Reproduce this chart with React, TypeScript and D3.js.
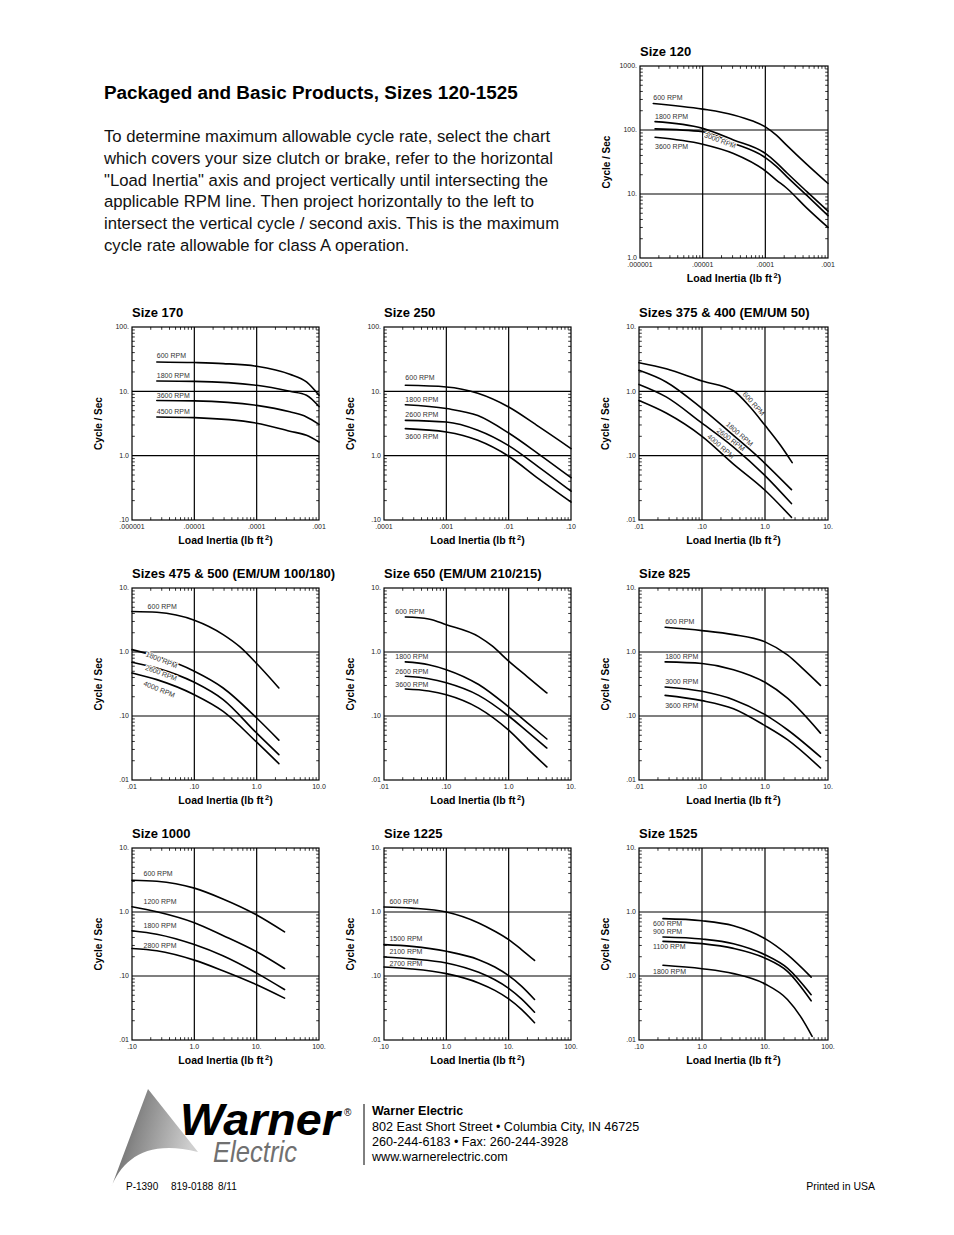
import React from 'react';
import * as d3 from 'd3';

type P = [number, number];

// ---------------- DATA (x = load inertia lb ft², y = cycles / sec) ----------------
const s120_600: P[] = [[1.63e-6, 260], [1e-5, 212], [3.1e-5, 172], [6.3e-5, 138], [1e-4, 112], [1.5e-4, 83], [2.2e-4, 57.5], [4.6e-4, 29], [1e-3, 14.6]];
const s120_1800: P[] = [[1.74e-6, 135], [1e-5, 106], [3.1e-5, 70], [1e-4, 43], [1.5e-4, 31], [2.2e-4, 21.5], [4.6e-4, 10.9], [1e-3, 5.4]];
const s120_3000: P[] = [[1.74e-6, 104], [1e-5, 94], [3.1e-5, 62], [1e-4, 37], [1.5e-4, 27], [2.2e-4, 18.7], [4.6e-4, 9.5], [1e-3, 4.6]];
const s120_3600: P[] = [[1.74e-6, 77], [1e-5, 60], [3.1e-5, 43], [1e-4, 23], [1.5e-4, 16.5], [2.2e-4, 12.3], [4.6e-4, 6.0], [1e-3, 3.0]];

const s170_600: P[] = [[2.5e-6, 28.6], [1e-5, 28], [2.9e-5, 27], [1e-4, 24.5], [3.4e-4, 18.4], [6.3e-4, 14], [1e-3, 8.7]];
const s170_1800: P[] = [[2.5e-6, 14.5], [1e-5, 14.3], [1e-4, 12.4], [3.4e-4, 10], [6.3e-4, 8.7], [1e-3, 5.8]];
const s170_3600: P[] = [[2.5e-6, 7.2], [1e-5, 7.1], [1e-4, 6.05], [3.4e-4, 4.8], [6.3e-4, 4.0], [1e-3, 3.07]];
const s170_4500: P[] = [[2.5e-6, 4.0], [1e-5, 3.9], [1e-4, 3.2], [3.4e-4, 2.4], [6.3e-4, 2.07], [1e-3, 1.63]];

const s250_600: P[] = [[2.2e-4, 12.4], [1e-3, 11.7], [3.2e-3, 9.3], [0.01, 5.7], [0.03, 2.85], [0.1, 1.29]];
const s250_1800: P[] = [[2.2e-4, 6.2], [1e-3, 5.4], [3.2e-3, 4.2], [0.01, 2.25], [0.03, 1.07], [0.1, 0.455]];
const s250_2600: P[] = [[2.2e-4, 3.54], [1e-3, 3.33], [3.2e-3, 2.48], [0.01, 1.43], [0.03, 0.67], [0.1, 0.28]];
const s250_3600: P[] = [[2.2e-4, 2.63], [1e-3, 2.33], [3.2e-3, 1.73], [0.01, 0.98], [0.03, 0.44], [0.1, 0.19]];

const s375_600: P[] = [[0.01, 2.79], [0.027, 2.25], [0.1, 1.45], [0.316, 1.02], [0.58, 0.57], [1, 0.296], [1.76, 0.145], [2.7, 0.078]];
const s375_1800: P[] = [[0.01, 2.12], [0.027, 1.4], [0.1, 0.54], [0.316, 0.207], [0.74, 0.1], [2.63, 0.0296]];
const s375_2600: P[] = [[0.01, 1.28], [0.027, 0.82], [0.1, 0.32], [0.316, 0.136], [1, 0.049], [2.63, 0.018]];
const s375_4000: P[] = [[0.01, 0.72], [0.027, 0.46], [0.1, 0.2], [0.316, 0.074], [1, 0.029], [2.63, 0.011]];

const s475_600: P[] = [[0.01, 4.3], [0.025, 4.17], [0.1, 3.13], [0.29, 1.87], [0.54, 1.2], [1, 0.66], [2.27, 0.274]];
const s475_1800: P[] = [[0.01, 1.09], [0.025, 0.855], [0.1, 0.5], [0.29, 0.274], [1, 0.093], [2.27, 0.042]];
const s475_2600: P[] = [[0.01, 0.69], [0.025, 0.56], [0.1, 0.336], [0.29, 0.18], [1, 0.054], [2.27, 0.0249]];
const s475_4000: P[] = [[0.01, 0.47], [0.025, 0.37], [0.1, 0.215], [0.29, 0.118], [1, 0.039], [2.27, 0.018]];

const s650_600: P[] = [[0.022, 3.52], [0.052, 3.28], [0.1, 2.67], [0.33, 1.74], [0.55, 1.23], [1, 0.72], [2.0, 0.41], [4.1, 0.229]];
const s650_1800: P[] = [[0.022, 0.7], [0.052, 0.634], [0.1, 0.53], [0.33, 0.31], [1, 0.138], [2.0, 0.078], [4.1, 0.0437]];
const s650_2600: P[] = [[0.022, 0.417], [0.052, 0.383], [0.1, 0.33], [0.33, 0.21], [1, 0.1], [2.0, 0.057], [4.1, 0.0316]];
const s650_3600: P[] = [[0.022, 0.264], [0.052, 0.246], [0.1, 0.215], [0.33, 0.133], [1, 0.06], [2.0, 0.031], [4.1, 0.016]];

const s825_600: P[] = [[0.026, 2.43], [0.1, 2.16], [0.316, 1.87], [1, 1.44], [2.27, 0.9], [4.14, 0.53], [7.6, 0.3]];
const s825_1800: P[] = [[0.026, 0.7], [0.1, 0.66], [0.316, 0.53], [1, 0.336], [2.27, 0.19], [7.6, 0.054]];
const s825_3000: P[] = [[0.026, 0.284], [0.1, 0.243], [0.316, 0.18], [1, 0.105], [2.27, 0.061], [7.6, 0.0229]];
const s825_3600: P[] = [[0.026, 0.21], [0.1, 0.174], [0.316, 0.13], [1, 0.0707], [2.27, 0.0427], [7.6, 0.0154]];

const s1000_600: P[] = [[0.1, 3.14], [0.25, 3.03], [1, 2.36], [2.87, 1.6], [10, 0.9], [28, 0.49]];
const s1000_1200: P[] = [[0.1, 1.21], [0.25, 1.01], [1, 0.68], [2.87, 0.43], [10, 0.239], [28, 0.131]];
const s1000_1800: P[] = [[0.1, 0.51], [0.25, 0.45], [1, 0.31], [2.87, 0.207], [10, 0.111], [28, 0.0614]];
const s1000_2800: P[] = [[0.1, 0.269], [0.25, 0.248], [1, 0.177], [2.87, 0.121], [10, 0.073], [28, 0.045]];

const s1225_600: P[] = [[0.1, 1.2], [0.28, 1.15], [1, 1.0], [3.3, 0.675], [6, 0.5], [10, 0.37], [16.2, 0.257], [26, 0.175]];
const s1225_1500: P[] = [[0.1, 0.309], [0.28, 0.29], [1, 0.243], [3.3, 0.18], [6, 0.138], [10, 0.101], [16.2, 0.069], [26, 0.043]];
const s1225_2100: P[] = [[0.1, 0.198], [0.28, 0.185], [1, 0.16], [3.3, 0.114], [6, 0.0873], [10, 0.0643], [16.2, 0.0436], [26, 0.0272]];
const s1225_2700: P[] = [[0.1, 0.138], [0.28, 0.129], [1, 0.109], [3.3, 0.078], [6, 0.0597], [10, 0.044], [16.2, 0.0299], [26, 0.0186]];

const s1525_600: P[] = [[0.24, 0.787], [1, 0.73], [3.16, 0.61], [10, 0.383], [22.7, 0.215], [54, 0.096]];
const s1525_900: P[] = [[0.24, 0.407], [1, 0.378], [3.16, 0.32], [10, 0.215], [22.7, 0.133], [54, 0.051]];
const s1525_1100: P[] = [[0.24, 0.348], [1, 0.32], [3.16, 0.27], [10, 0.19], [22.7, 0.118], [54, 0.041]];
const s1525_1800: P[] = [[0.24, 0.147], [1, 0.13], [3.16, 0.109], [10, 0.075], [22.7, 0.043], [36.6, 0.0234], [56, 0.0114]];

// tick labels
const xTicks6to3 = ['.000001', '.00001', '.0001', '.001'];
const xTicks4to1 = ['.0001', '.001', '.01', '.10'];
const xTicks2to1 = ['.01', '.10', '1.0', '10.'];
const xTicks2to1b = ['.01', '.10', '1.0', '10.0'];
const xTicks1to2 = ['.10', '1.0', '10.', '100.'];
const yTicks0to3 = ['1.0', '10.', '100.', '1000.'];
const yTicksm1to2 = ['.10', '1.0', '10.', '100.'];
const yTicksm2to1 = ['.01', '.10', '1.0', '10.'];

// ---------------- LAYOUT ----------------
const FONT = '"Liberation Sans", Arial, Helvetica, sans-serif';
const COLX: [number, number][] = [[132, 319], [384, 571], [639, 828]];
const ROWY: [number, number][] = [[327, 520], [588, 780], [848, 1040]];

type LabelSpec = { lx: number; dy: number; rot?: boolean; halo?: boolean };
type SeriesDef = { name: string; pts: P[]; label: LabelSpec };
type ChartDef = {
  title: string;
  box: [number, number, number, number];
  xDomain: [number, number];
  yDomain: [number, number];
  xLabels: string[];
  yLabels: string[];
  series: SeriesDef[];
};

const box = (c: number, r: number): [number, number, number, number] => [COLX[c][0], ROWY[r][0], COLX[c][1], ROWY[r][1]];

const charts: ChartDef[] = [
  {
    title: 'Size 120', box: [640, 66, 828, 258], xDomain: [1e-6, 1e-3], yDomain: [1, 1000], xLabels: xTicks6to3, yLabels: yTicks0to3,
    series: [
      { name: '600 RPM', pts: s120_600, label: { lx: 1.63e-6, dy: -3.5 } },
      { name: '1800 RPM', pts: s120_1800, label: { lx: 1.74e-6, dy: -3 } },
      { name: '3000 RPM', pts: s120_3000, label: { lx: 1.95e-5, dy: 4.5, rot: true, halo: true } },
      { name: '3600 RPM', pts: s120_3600, label: { lx: 1.74e-6, dy: 11.5 } },
    ],
  },
  {
    title: 'Size 170', box: box(0, 0), xDomain: [1e-6, 1e-3], yDomain: [0.1, 100], xLabels: xTicks6to3, yLabels: yTicksm1to2,
    series: [
      { name: '600 RPM', pts: s170_600, label: { lx: 2.5e-6, dy: -4 } },
      { name: '1800 RPM', pts: s170_1800, label: { lx: 2.5e-6, dy: -2.5 } },
      { name: '3600 RPM', pts: s170_3600, label: { lx: 2.5e-6, dy: -3 } },
      { name: '4500 RPM', pts: s170_4500, label: { lx: 2.5e-6, dy: -3 } },
    ],
  },
  {
    title: 'Size 250', box: box(1, 0), xDomain: [1e-4, 0.1], yDomain: [0.1, 100], xLabels: xTicks4to1, yLabels: yTicksm1to2,
    series: [
      { name: '600 RPM', pts: s250_600, label: { lx: 2.2e-4, dy: -5 } },
      { name: '1800 RPM', pts: s250_1800, label: { lx: 2.2e-4, dy: -3 } },
      { name: '2600 RPM', pts: s250_2600, label: { lx: 2.2e-4, dy: -3 } },
      { name: '3600 RPM', pts: s250_3600, label: { lx: 2.2e-4, dy: 10.5 } },
    ],
  },
  {
    title: 'Sizes 375 & 400 (EM/UM 50)', box: box(2, 0), xDomain: [0.01, 10], yDomain: [0.01, 10], xLabels: xTicks2to1, yLabels: yTicksm2to1,
    series: [
      { name: '600 RPM', pts: s375_600, label: { lx: 0.58, dy: -2.5, rot: true } },
      { name: '1800 RPM', pts: s375_1800, label: { lx: 0.35, dy: -2.5, rot: true } },
      { name: '2600 RPM', pts: s375_2600, label: { lx: 0.26, dy: -2, rot: true } },
      { name: '4000 RPM', pts: s375_4000, label: { lx: 0.176, dy: -2.5, rot: true } },
    ],
  },
  {
    title: 'Sizes 475 & 500 (EM/UM 100/180)', box: box(0, 1), xDomain: [0.01, 10], yDomain: [0.01, 10], xLabels: xTicks2to1b, yLabels: yTicksm2to1,
    series: [
      { name: '600 RPM', pts: s475_600, label: { lx: 0.0178, dy: -3 } },
      { name: '1800 RPM', pts: s475_1800, label: { lx: 0.0305, dy: 4, rot: true, halo: true } },
      { name: '2600 RPM', pts: s475_2600, label: { lx: 0.0305, dy: 5.5, rot: true, halo: true } },
      { name: '4000 RPM', pts: s475_4000, label: { lx: 0.0305, dy: 10.5, rot: true } },
    ],
  },
  {
    title: 'Size 650 (EM/UM 210/215)', box: box(1, 1), xDomain: [0.01, 10], yDomain: [0.01, 10], xLabels: xTicks2to1, yLabels: yTicksm2to1,
    series: [
      { name: '600 RPM', pts: s650_600, label: { lx: 0.0152, dy: -3.3 } },
      { name: '1800 RPM', pts: s650_1800, label: { lx: 0.0152, dy: -3.3 } },
      { name: '2600 RPM', pts: s650_2600, label: { lx: 0.0152, dy: -2.7 } },
      { name: '3600 RPM', pts: s650_3600, label: { lx: 0.0152, dy: -2.5 } },
    ],
  },
  {
    title: 'Size 825', box: box(2, 1), xDomain: [0.01, 10], yDomain: [0.01, 10], xLabels: xTicks2to1, yLabels: yTicksm2to1,
    series: [
      { name: '600 RPM', pts: s825_600, label: { lx: 0.026, dy: -3 } },
      { name: '1800 RPM', pts: s825_1800, label: { lx: 0.026, dy: -2.5 } },
      { name: '3000 RPM', pts: s825_3000, label: { lx: 0.026, dy: -2.5 } },
      { name: '3600 RPM', pts: s825_3600, label: { lx: 0.026, dy: 12.5 } },
    ],
  },
  {
    title: 'Size 1000', box: box(0, 2), xDomain: [0.1, 100], yDomain: [0.01, 10], xLabels: xTicks1to2, yLabels: yTicksm2to1,
    series: [
      { name: '600 RPM', pts: s1000_600, label: { lx: 0.153, dy: -4.5 } },
      { name: '1200 RPM', pts: s1000_1200, label: { lx: 0.153, dy: -5 } },
      { name: '1800 RPM', pts: s1000_1800, label: { lx: 0.153, dy: -4 } },
      { name: '2800 RPM', pts: s1000_2800, label: { lx: 0.153, dy: -2 } },
    ],
  },
  {
    title: 'Size 1225', box: box(1, 2), xDomain: [0.1, 100], yDomain: [0.01, 10], xLabels: xTicks1to2, yLabels: yTicksm2to1,
    series: [
      { name: '600 RPM', pts: s1225_600, label: { lx: 0.122, dy: -3 } },
      { name: '1500 RPM', pts: s1225_1500, label: { lx: 0.122, dy: -4 } },
      { name: '2100 RPM', pts: s1225_2100, label: { lx: 0.122, dy: -3 } },
      { name: '2700 RPM', pts: s1225_2700, label: { lx: 0.122, dy: -1.5 } },
    ],
  },
  {
    title: 'Size 1525', box: box(2, 2), xDomain: [0.1, 100], yDomain: [0.01, 10], xLabels: xTicks1to2, yLabels: yTicksm2to1,
    series: [
      { name: '600 RPM', pts: s1525_600, label: { lx: 0.167, dy: 7.5 } },
      { name: '900 RPM', pts: s1525_900, label: { lx: 0.167, dy: -3 } },
      { name: '1100 RPM', pts: s1525_1100, label: { lx: 0.167, dy: 7.5 } },
      { name: '1800 RPM', pts: s1525_1800, label: { lx: 0.167, dy: 9 } },
    ],
  },
];

const paragraph = [
  'To determine maximum allowable cycle rate, select the chart',
  'which covers your size clutch or brake, refer to the horizontal',
  '"Load Inertia" axis and project vertically until intersecting the',
  'applicable RPM line. Then project horizontally to the left to',
  'intersect the vertical cycle / second axis. This is the maximum',
  'cycle rate allowable for class A operation.',
];

const addressLines = [
  '802 East Short Street \u2022 Columbia City, IN 46725',
  '260-244-6183 \u2022 Fax: 260-244-3928',
  'www.warnerelectric.com',
];

// ---------------- HELPERS ----------------
function decades(dom: [number, number]): number[] {
  const a = Math.round(Math.log10(dom[0]));
  const b = Math.round(Math.log10(dom[1]));
  const out: number[] = [];
  for (let i = a; i <= b; i++) out.push(Math.pow(10, i));
  return out;
}

function yAt(pts: P[], x: number): number {
  if (x <= pts[0][0]) return pts[0][1];
  const last = pts[pts.length - 1];
  if (x >= last[0]) return last[1];
  const lx = Math.log10(x);
  for (let i = 1; i < pts.length; i++) {
    if (x <= pts[i][0]) {
      const a = Math.log10(pts[i - 1][0]);
      const b = Math.log10(pts[i][0]);
      const t = (lx - a) / (b - a);
      return Math.pow(10, Math.log10(pts[i - 1][1]) * (1 - t) + Math.log10(pts[i][1]) * t);
    }
  }
  return last[1];
}

function Chart({ def }: { def: ChartDef }) {
  const [x0, y0, x1, y1] = def.box;
  const xs = d3.scaleLog().domain(def.xDomain).range([x0, x1]);
  const ys = d3.scaleLog().domain(def.yDomain).range([y1, y0]);
  const xd = decades(def.xDomain);
  const yd = decades(def.yDomain);
  const line = d3
    .line<P>()
    .x((d) => xs(d[0]))
    .y((d) => ys(d[1]))
    .curve(d3.curveMonotoneX);

  const minorX: number[] = [];
  xd.slice(0, -1).forEach((d) => { for (let k = 2; k <= 9; k++) minorX.push(d * k); });
  const minorY: number[] = [];
  yd.slice(0, -1).forEach((d) => { for (let k = 2; k <= 9; k++) minorY.push(d * k); });
  const T = 2.8;

  return (
    <g>
      <text x={x0} y={y0 - 10} fontFamily={FONT} fontWeight="bold" fontSize={13}>{def.title}</text>
      {xd.slice(1, -1).map((v, i) => (
        <line key={'gx' + i} x1={xs(v)} x2={xs(v)} y1={y0} y2={y1} stroke="#000" strokeWidth={1.2} />
      ))}
      {yd.slice(1, -1).map((v, i) => (
        <line key={'gy' + i} x1={x0} x2={x1} y1={ys(v)} y2={ys(v)} stroke="#000" strokeWidth={1.2} />
      ))}
      {minorX.map((v, i) => (
        <g key={'mx' + i}>
          <line x1={xs(v)} x2={xs(v)} y1={y1} y2={y1 - T} stroke="#000" strokeWidth={0.8} />
          <line x1={xs(v)} x2={xs(v)} y1={y0} y2={y0 + T} stroke="#000" strokeWidth={0.8} />
        </g>
      ))}
      {minorY.map((v, i) => (
        <g key={'my' + i}>
          <line x1={x0} x2={x0 + T} y1={ys(v)} y2={ys(v)} stroke="#000" strokeWidth={0.8} />
          <line x1={x1} x2={x1 - T} y1={ys(v)} y2={ys(v)} stroke="#000" strokeWidth={0.8} />
        </g>
      ))}
      <rect x={x0} y={y0} width={x1 - x0} height={y1 - y0} fill="none" stroke="#000" strokeWidth={1.2} />
      {xd.map((v, i) => (
        <text key={'xl' + i} x={xs(v)} y={y1 + 8.5} textAnchor="middle" fontFamily={FONT} fontSize={7} fill="#222">{def.xLabels[i]}</text>
      ))}
      {yd.map((v, i) => (
        <text key={'yl' + i} x={x0 - 3} y={ys(v) + 2.4} textAnchor="end" fontFamily={FONT} fontSize={7} fill="#222">{def.yLabels[i]}</text>
      ))}
      <text x={(x0 + x1) / 2} y={y1 + 23.5} textAnchor="middle" fontFamily={FONT} fontWeight="bold" fontSize={10.5}>
        Load Inertia (lb ft<tspan fontSize={7.5} dx={1.5} dy={-3.5}>2</tspan><tspan dy={3.5}>)</tspan>
      </text>
      <text transform={`translate(${x0 - 30},${(y0 + y1) / 2}) rotate(-90)`} textAnchor="middle" fontFamily={FONT} fontWeight="bold" fontSize={10}>
        Cycle / Sec
      </text>
      {def.series.map((s, i) => (
        <path key={'c' + i} d={line(s.pts) || ''} fill="none" stroke="#000" strokeWidth={1.6} strokeLinecap="round" />
      ))}
      {def.series.map((s, i) => {
        const L = s.label;
        const px = xs(L.lx);
        const py = ys(yAt(s.pts, L.lx));
        if (L.rot) {
          const ax = xs(L.lx / 1.15), ay = ys(yAt(s.pts, L.lx / 1.15));
          const bx = xs(L.lx * 1.15), by = ys(yAt(s.pts, L.lx * 1.15));
          const ang = (Math.atan2(by - ay, bx - ax) * 180) / Math.PI;
          return (
            <text key={'l' + i} transform={`translate(${px},${py}) rotate(${ang})`} y={L.dy} textAnchor="middle"
              fontFamily={FONT} fontSize={7} fill="#333"
              stroke={L.halo ? '#fff' : 'none'} strokeWidth={L.halo ? 2 : 0} style={{ paintOrder: 'stroke' }}>
              {s.name}
            </text>
          );
        }
        return (
          <text key={'l' + i} x={px} y={py + L.dy} fontFamily={FONT} fontSize={7} fill="#333">{s.name}</text>
        );
      })}
    </g>
  );
}

function Logo() {
  return (
    <g>
      <defs>
        <linearGradient id="wgrad" x1="0" y1="0" x2="1" y2="0.3">
          <stop offset="0" stopColor="#4e4e4e" />
          <stop offset="0.4" stopColor="#888" />
          <stop offset="1" stopColor="#cfcfcf" />
        </linearGradient>
      </defs>
      <path d="M148,1089 L111,1188 C122,1160 146,1139 198,1152 Z" fill="url(#wgrad)" />
      <text x={180} y={1135} fontFamily={FONT} fontWeight="bold" fontStyle="italic" fontSize={45} textLength={160} lengthAdjust="spacingAndGlyphs">Warner</text>
      <text x={344} y={1116} fontFamily={FONT} fontSize={10}>®</text>
      <text x={213} y={1162} fontFamily={FONT} fontStyle="italic" fontSize={29} fill="#707070" textLength={84} lengthAdjust="spacingAndGlyphs">Electric</text>
    </g>
  );
}

export default function App() {
  return (
    <svg width={954} height={1235} viewBox="0 0 954 1235" style={{ position: 'absolute', left: 0, top: 0, background: '#fff' }}>
      <rect x={0} y={0} width={954} height={1235} fill="#fff" />
      <text x={104} y={99} fontFamily={FONT} fontWeight="bold" fontSize={18.9}>Packaged and Basic Products, Sizes 120-1525</text>
      {paragraph.map((t, i) => (
        <text key={i} x={104} y={142 + i * 21.8} fontFamily={FONT} fontSize={16.7} fill="#111">{t}</text>
      ))}
      {charts.map((c, i) => (
        <Chart key={i} def={c} />
      ))}
      <Logo />
      <line x1={364} x2={364} y1={1104} y2={1165} stroke="#000" strokeWidth={1} />
      <text x={372} y={1115} fontFamily={FONT} fontWeight="bold" fontSize={12.5}>Warner Electric</text>
      {addressLines.map((t, i) => (
        <text key={i} x={372} y={1131 + i * 15} fontFamily={FONT} fontSize={12.6}>{t}</text>
      ))}
      <text x={126} y={1190} fontFamily={FONT} fontSize={10}>P-1390</text>
      <text x={171} y={1190} fontFamily={FONT} fontSize={10}>819-0188</text>
      <text x={218} y={1190} fontFamily={FONT} fontSize={10}>8/11</text>
      <text x={875} y={1190} textAnchor="end" fontFamily={FONT} fontSize={10.5}>Printed in USA</text>
    </svg>
  );
}
